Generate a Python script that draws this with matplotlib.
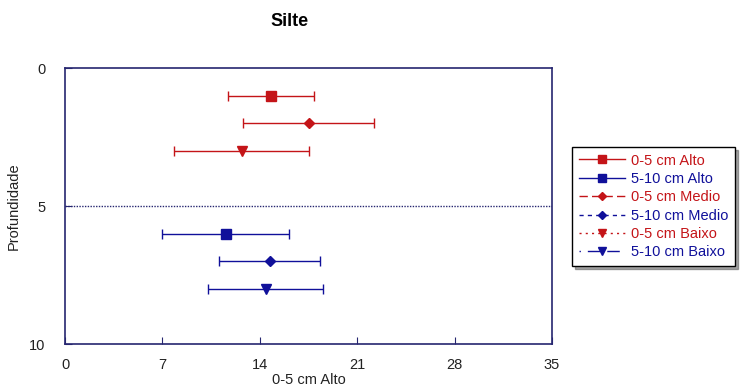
import matplotlib
matplotlib.use("Agg")
import matplotlib.pyplot as plt
from matplotlib.lines import Line2D

plt.rcParams['font.family'] = ['Liberation Sans', 'DejaVu Sans']

# data
labels = ['0-5 cm Alto', '5-10 cm Alto', '0-5 cm Medio',
          '5-10 cm Medio', '0-5 cm Baixo', '5-10 cm Baixo']
depth = [1, 6, 2, 7, 3, 8]
silte = [14.78, 11.54, 17.52, 14.72, 12.70, 14.43]
err = [3.09, 4.55, 4.72, 3.63, 4.87, 4.13]

red = '#c41418'
blue = '#10109a'
colors = [red, blue, red, blue, red, blue]
markers = ['s', 's', 'D', 'D', 'v', 'v']
msizes = [7, 7, 5, 5, 7, 7]
styles = ['-', '-', (0, (6, 3)), (0, (3, 3)), (0, (1.5, 3)), (0, (1, 5, 8, 0))]
spine = '#262670'

fig = plt.figure(figsize=(7.52, 3.9), dpi=100)
ax = fig.add_axes([65 / 752, 46 / 390, 487 / 752, 276 / 390])

for i in range(len(labels)):
    ax.errorbar(silte[i], depth[i], xerr=err[i], fmt=markers[i],
                color=colors[i], ms=msizes[i], elinewidth=1.0,
                capsize=3.5, capthick=1.0)

ax.axhline(5, color=spine, lw=1, ls=(0, (1, 1)))

ax.set_xlim(0, 35)
ax.set_ylim(10, 0)
ax.set_xticks([0, 7, 14, 21, 28, 35])
ax.set_yticks([0, 5, 10])
ax.tick_params(direction='in', length=5, color=spine, labelsize=10.5,
               labelcolor='#222222', pad=10)
ax.tick_params(axis='y', pad=14)
for s in ax.spines.values():
    s.set_color(spine)
    s.set_linewidth(1.2)

ax.set_xlabel('0-5 cm Alto', fontsize=10.5, color='#222222', labelpad=1)
ax.set_ylabel('Profundidade', fontsize=10.5, color='#222222', labelpad=6)
fig.text(290 / 752, 1 - 22 / 390, 'Silte', ha='center', va='center',
         fontsize=13, fontweight='bold')

handles = [Line2D([], [], color=colors[i], ls=styles[i], marker=markers[i],
                  ms=msizes[i] - 1, lw=1) for i in range(len(labels))]
leg = fig.legend(handles, labels, loc='upper left',
                 bbox_to_anchor=(572 / 752, 1 - 147 / 390),
                 borderaxespad=0, fancybox=False, shadow=True, framealpha=1,
                 edgecolor='black', fontsize=10.5, handlelength=3.2,
                 handletextpad=0.4, labelspacing=0.3, borderpad=0.45)
leg.get_frame().set_linewidth(1)
for t, c in zip(leg.get_texts(), colors):
    t.set_color(c)

fig.savefig('out.png', dpi=100)
